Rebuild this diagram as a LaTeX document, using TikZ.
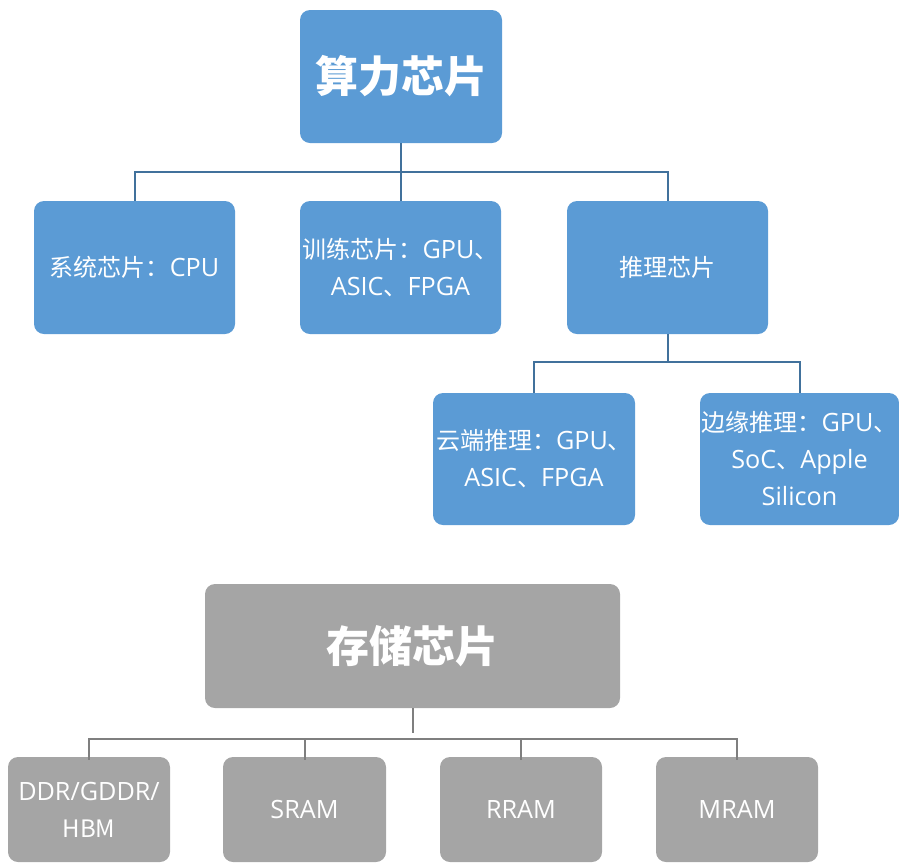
\documentclass[tikz,border=0pt]{standalone}
\usepackage{fontspec}
\setmainfont{Noto Sans CJK SC}
\newfontfamily\lat{Open Sans}[Scale=1.05]
\definecolor{bluebox}{HTML}{5B9BD5}
\definecolor{blueline}{HTML}{41719C}
\definecolor{graybox}{HTML}{A5A5A5}
\definecolor{grayline}{HTML}{7F7F7F}
\tikzset{
  bbox/.style={fill=bluebox, rounded corners=10pt, text=white, align=center, inner sep=0pt,
    font=\fontsize{24}{37}\selectfont},
  gbox/.style={fill=graybox, rounded corners=10pt, text=white, align=center, inner sep=0pt,
    font=\fontsize{24}{37}\selectfont},
  title/.style={font=\fontsize{43}{48}\selectfont\bfseries},
  bconn/.style={draw=blueline, line width=2pt},
  gconn/.style={draw=grayline, line width=2pt},
}
\begin{document}
\begin{tikzpicture}[x=1pt,y=-1pt]
\useasboundingbox (0,0) rectangle (899,863);
% compute chips
\node[bbox,title,minimum width=202,minimum height=133] (top) at (401,76.5) {算力芯片};
\node[bbox,minimum width=201,minimum height=133] (b1) at (134.5,267.5) {系统芯片：{\lat CPU}};
\node[bbox,minimum width=201,minimum height=133] (b2) at (400.5,267.5) {训练芯片：{\lat GPU}、\\{\lat ASIC}、{\lat FPGA}};
\node[bbox,minimum width=201,minimum height=133] (b3) at (667.5,267.5) {推理芯片};
\node[bbox,minimum width=202,minimum height=132] (b4) at (534,459) {云端推理：{\lat GPU}、\\{\lat ASIC}、{\lat FPGA}};
\node[bbox,minimum width=199,minimum height=132] (b5) at (799.5,459) {边缘推理：{\lat GPU}、\\{\lat SoC}、{\lat Apple}\\{\lat Silicon}};
\draw[bconn] (top.south) -- (top.south |- b2.north);
\draw[bconn] (b1.north) -- ++(0,-29) -| (b3.north);
\draw[bconn] (b3.south) -- ++(0,28);
\draw[bconn] (b4.north) -- ++(0,-31) -| (b5.north);
% storage chips
\node[gbox,title,minimum width=415,minimum height=124] (st) at (412.5,646) {存储芯片};
\node[gbox,minimum width=162,minimum height=105] (g1) at (89,809.5) {\lat DDR/GDDR/\\HBM};
\node[gbox,minimum width=163,minimum height=105] (g2) at (304.5,809.5) {\lat SRAM};
\node[gbox,minimum width=162,minimum height=105] (g3) at (521,809.5) {\lat RRAM};
\node[gbox,minimum width=162,minimum height=105] (g4) at (737,809.5) {\lat MRAM};
\draw[gconn] (st.south) -- ++(0,25);
\draw[gconn] ([yshift=-3pt]g1.north) -- ++(0,-21) -| ([yshift=-3pt]g4.north);
\draw[gconn] ([yshift=-3pt]g2.north) -- ++(0,-21);
\draw[gconn] ([yshift=-3pt]g3.north) -- ++(0,-21);
\end{tikzpicture}
\end{document}
